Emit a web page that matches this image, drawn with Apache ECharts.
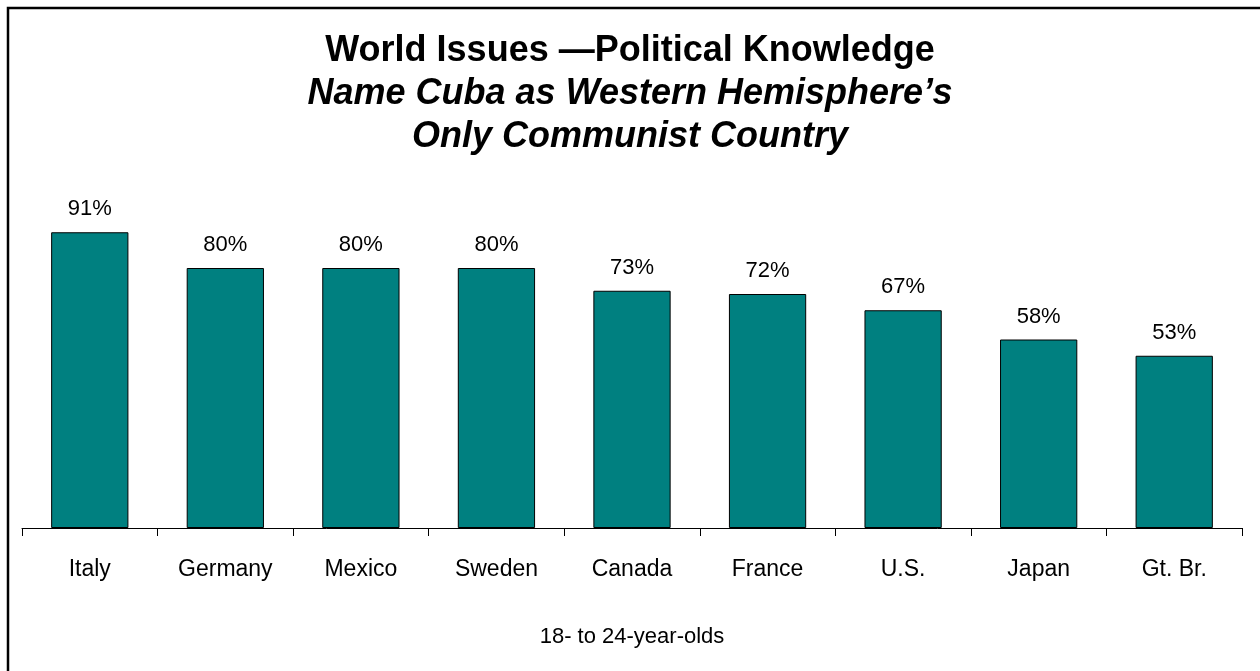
<!DOCTYPE html>
<html>
<head>
<meta charset="utf-8">
<script src="https://cdn.jsdelivr.net/npm/echarts@6/dist/echarts.min.js"></script>
<style>
  html, body { margin: 0; padding: 0; background: #fff; }
  #main { width: 1260px; height: 671px; }
</style>
</head>
<body>
<div id="main"></div>
<script>
// 18- to 24-year-olds naming Cuba
var countries = ['Italy', 'Germany', 'Mexico', 'Sweden', 'Canada', 'France', 'U.S.', 'Japan', 'Gt. Br.'];
var percents = [91, 80, 80, 80, 73, 72, 67, 58, 53];

var chart = echarts.init(document.getElementById('main'));

var font = 'Arial, "Liberation Sans", sans-serif';

var option = {
  backgroundColor: '#fff',
  animation: false,
  title: {
    left: 'center',
    top: 25,
    text: '{a|World Issues —Political Knowledge}\n{b|Name Cuba as Western Hemisphere’s}\n{b|Only Communist Country}',
    textStyle: {
      rich: {
        a: { fontFamily: font, fontSize: 36, fontWeight: 'bold', color: '#000', lineHeight: 43 },
        b: { fontFamily: font, fontSize: 36, fontWeight: 'bold', fontStyle: 'italic', color: '#000', lineHeight: 43 }
      }
    }
  },
  graphic: [{
    type: 'rect',
    shape: { x: 8, y: 8, width: 1300, height: 700 },
    style: { fill: 'none', stroke: '#000', lineWidth: 2.5 },
    silent: true
  }],
  grid: {
    left: 22,
    right: 18,
    top: 203,
    bottom: 143
  },
  xAxis: {
    type: 'category',
    data: countries,
    name: '18- to 24-year-olds',
    nameLocation: 'middle',
    nameGap: 98,
    nameTextStyle: { fontFamily: font, fontSize: 22, color: '#000' },
    axisLine: { show: true, lineStyle: { color: '#000', width: 1 } },
    axisTick: { show: true, alignWithLabel: false, length: 8, lineStyle: { color: '#000', width: 1 } },
    axisLabel: { fontFamily: font, fontSize: 23, color: '#000', margin: 30 }
  },
  yAxis: {
    type: 'value',
    min: 0,
    max: 100,
    show: false
  },
  series: [{
    type: 'bar',
    data: percents,
    barWidth: '57%',
    itemStyle: { color: '#008080', borderColor: '#000', borderWidth: 1 },
    label: {
      show: true,
      position: 'top',
      distance: 12,
      formatter: '{c}%',
      fontFamily: font,
      fontSize: 22,
      color: '#000'
    }
  }]
};

chart.setOption(option);
</script>
</body>
</html>
